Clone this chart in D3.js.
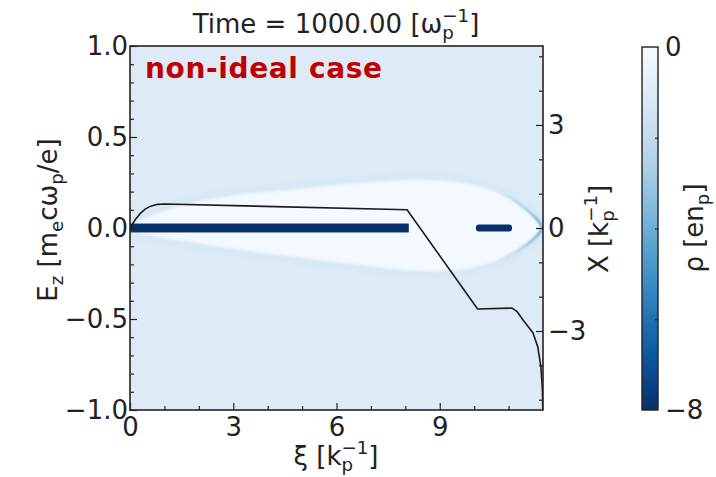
<!DOCTYPE html>
<html>
<head>
<meta charset="utf-8">
<script src="https://cdn.jsdelivr.net/npm/d3@7"></script>
<style>
  body { margin: 0; background: #fff; }
  text { font-family: "DejaVu Sans", sans-serif; fill: #222; }
</style>
</head>
<body>
<div id="chart"></div>
<script>
// axis ranges and ticks
const xiDomain = [0, 12];
const ezDomain = [-1, 1];
const xDomain = [-5.3, 5.3];
const rhoDomain = [0, -8];
const xiTicks = [0, 3, 6, 9];
const xiMinor = [1, 2, 4, 5, 7, 8, 10, 11];
const ezTicks = [-1, -0.5, 0, 0.5, 1];
const ezMinor = [-0.9, -0.8, -0.7, -0.6, -0.4, -0.3, -0.2, -0.1, 0.1, 0.2, 0.3, 0.4, 0.6, 0.7, 0.8, 0.9];
const xTicks = [-3, 0, 3];
const xMinor = [-5, -4, -2, -1, 1, 2, 4, 5];
const rhoTicks = [0, -8];
const rhoMinor = [-2, -4, -6];

// density levels
const rhoBackground = -1;
const rhoBubble = -0.15;
const rhoHalo = -2;
const rhoSheath = -4.5;
const rhoBeam = -8;

// bubble boundary
const bubbleXi     = [0, 0.5, 1, 2, 3, 4, 5, 6, 7, 8, 9, 10, 10.5, 11, 11.5, 11.8, 12];
const bubbleTop    = [0.08, 0.3, 0.5, 0.78, 0.95, 1.05, 1.15, 1.25, 1.33, 1.4, 1.38, 1.25, 1.1, 0.9, 0.55, 0.28, 0];
const bubbleBottom = [-0.08, -0.2, -0.3, -0.45, -0.6, -0.75, -0.87, -1.0, -1.12, -1.22, -1.25, -1.15, -1.0, -0.8, -0.5, -0.25, 0];

// beams
const beamStart = [0, 10.05];
const beamEnd = [8.1, 11.1];
const beamHalf = [0.13, 0.1];

// on-axis Ez
const ezXi     = [0, 0.15, 0.3, 0.45, 0.6, 0.8, 1.0, 8.05, 10.1, 11.1, 11.25, 11.42, 11.6, 11.71, 11.85, 11.94, 11.98, 11.995];
const ezValues = [0, 0.045, 0.08, 0.105, 0.12, 0.13, 0.132, 0.1, -0.445, -0.44, -0.46, -0.505, -0.55, -0.577, -0.654, -0.764, -0.88, -1.0];

const W = 716, H = 477;
const plot = { left: 130, right: 543, top: 46, bottom: 410 };
const cbar = { left: 642, right: 658, top: 47, bottom: 410 };
const FS = 26;

const svg = d3.select("#chart").append("svg").attr("width", W).attr("height", H);
const defs = svg.append("defs");

const xi = d3.scaleLinear().domain(xiDomain).range([plot.left, plot.right]);
const ez = d3.scaleLinear().domain(ezDomain).range([plot.bottom, plot.top]);
const xs = d3.scaleLinear().domain(xDomain).range([plot.bottom, plot.top]);
const color = d3.scaleSequential(d3.interpolateBlues).domain(rhoDomain);
const rhoY = d3.scaleLinear().domain(rhoDomain).range([cbar.top, cbar.bottom]);

defs.append("clipPath").attr("id", "clip").append("rect")
	.attr("x", plot.left).attr("y", plot.top)
	.attr("width", plot.right - plot.left).attr("height", plot.bottom - plot.top);

function blur(id, sd) {
	defs.append("filter").attr("id", id)
		.attr("x", "-20%").attr("y", "-50%").attr("width", "140%").attr("height", "200%")
		.append("feGaussianBlur").attr("stdDeviation", sd);
}
blur("blurBig", 5);
blur("blurMid", 1.6);
blur("blurSmall", 1);

// sheath fades in toward the back of the bubble
const sg = defs.append("linearGradient").attr("id", "sheathGrad")
	.attr("gradientUnits", "userSpaceOnUse")
	.attr("x1", xi(10.6)).attr("x2", xi(12)).attr("y1", 0).attr("y2", 0);
sg.append("stop").attr("offset", 0).attr("stop-color", color(rhoSheath)).attr("stop-opacity", 0);
sg.append("stop").attr("offset", 0.6).attr("stop-color", color(rhoSheath)).attr("stop-opacity", 0.45);
sg.append("stop").attr("offset", 1).attr("stop-color", color(rhoSheath)).attr("stop-opacity", 0.95);

const field = svg.append("g").attr("clip-path", "url(#clip)");

field.append("rect")
	.attr("x", plot.left).attr("y", plot.top)
	.attr("width", plot.right - plot.left).attr("height", plot.bottom - plot.top)
	.attr("fill", color(rhoBackground));

const bubble = bubbleXi.map((d, i) => ({ xi: d, top: bubbleTop[i], bot: bubbleBottom[i] }));

const outline = bubble.map(d => [xi(d.xi), xs(d.top)])
	.concat(bubble.slice().reverse().map(d => [xi(d.xi), xs(d.bot)]));
const closed = d3.line().curve(d3.curveCatmullRomClosed);

// faint halo around the cavity
field.append("path")
	.attr("d", closed(outline))
	.attr("fill", "none")
	.attr("stroke", color(rhoHalo))
	.attr("stroke-width", 8)
	.attr("opacity", 0.4)
	.attr("filter", "url(#blurBig)");

// the ion cavity
field.append("path")
	.attr("d", closed(outline))
	.attr("fill", color(rhoBubble))
	.attr("filter", "url(#blurMid)");

// electron sheath near the back of the bubble
const sheathLine = d3.line().curve(d3.curveCatmullRom).x(d => xi(d.xi));
const back = bubble.filter(d => d.xi >= 10.5);
["top", "bot"].forEach(k => {
	field.append("path")
		.attr("d", sheathLine.y(d => xs(d[k]))(back))
		.attr("fill", "none").attr("stroke", "url(#sheathGrad)")
		.attr("stroke-width", 2.4)
		.attr("filter", "url(#blurSmall)");
});

// beams
const beams = beamStart.map((d, i) => ({ s: d, e: beamEnd[i], h: beamHalf[i] }));
field.selectAll(".beam").data(beams).enter().append("rect")
	.attr("class", "beam")
	.attr("x", d => xi(d.s))
	.attr("y", d => xs(d.h))
	.attr("width", d => xi(d.e) - xi(d.s))
	.attr("height", d => xs(-d.h) - xs(d.h))
	.attr("rx", (d, i) => i == 1 ? 3 : 0)
	.attr("fill", color(rhoBeam));

// Ez line
const ezData = ezXi.map((d, i) => [d, ezValues[i]]);
field.append("path")
	.attr("d", d3.line().x(d => xi(d[0])).y(d => ez(d[1]))(ezData))
	.attr("fill", "none")
	.attr("stroke", "#1a1a1a")
	.attr("stroke-width", 1.6)
	.attr("stroke-linejoin", "round");

// axes
function styleAxis(g) {
	g.select(".domain").remove();
	g.attr("font-family", null).attr("font-size", null);
	g.selectAll("text").attr("font-size", FS).attr("fill", "#222");
	g.selectAll("line").attr("stroke", "#222").attr("stroke-width", 1.2);
}
const fmtEz = d3.format(".1f");

svg.append("g").attr("transform", `translate(${plot.left},0)`)
	.call(d3.axisLeft(ez).tickValues(ezTicks).tickSize(-7).tickPadding(2).tickFormat(fmtEz)).call(styleAxis);
svg.append("g").attr("transform", `translate(${plot.left},0)`)
	.call(d3.axisLeft(ez).tickValues(ezMinor).tickSize(-4).tickFormat("")).call(styleAxis);

svg.append("g").attr("transform", `translate(0,${plot.bottom})`)
	.call(d3.axisBottom(xi).tickValues(xiTicks).tickSize(-7).tickPadding(8)).call(styleAxis);
svg.append("g").attr("transform", `translate(0,${plot.bottom})`)
	.call(d3.axisBottom(xi).tickValues(xiMinor).tickSize(-4).tickFormat("")).call(styleAxis);

svg.append("g").attr("transform", `translate(${plot.right},0)`)
	.call(d3.axisRight(xs).tickValues(xTicks).tickSize(-7).tickPadding(5)).call(styleAxis);
svg.append("g").attr("transform", `translate(${plot.right},0)`)
	.call(d3.axisRight(xs).tickValues(xMinor).tickSize(-4).tickFormat("")).call(styleAxis);

svg.append("rect")
	.attr("x", plot.left).attr("y", plot.top)
	.attr("width", plot.right - plot.left).attr("height", plot.bottom - plot.top)
	.attr("fill", "none").attr("stroke", "#222").attr("stroke-width", 1.6);

// colorbar
const grad = defs.append("linearGradient").attr("id", "cgrad")
	.attr("x1", 0).attr("y1", 0).attr("x2", 0).attr("y2", 1);
d3.range(0, 1.0001, 0.05).forEach(t => {
	grad.append("stop").attr("offset", t).attr("stop-color", color(rhoDomain[0] + t * (rhoDomain[1] - rhoDomain[0])));
});
svg.append("rect")
	.attr("x", cbar.left).attr("y", cbar.top)
	.attr("width", cbar.right - cbar.left).attr("height", cbar.bottom - cbar.top)
	.attr("fill", "url(#cgrad)").attr("stroke", "#222").attr("stroke-width", 1.4);
svg.append("g").attr("transform", `translate(${cbar.right},0)`)
	.call(d3.axisRight(rhoY).tickValues(rhoTicks).tickSize(0).tickPadding(7)).call(styleAxis);
svg.append("g").attr("transform", `translate(${cbar.right},0)`)
	.call(d3.axisRight(rhoY).tickValues(rhoMinor).tickSize(-3).tickFormat("")).call(styleAxis);

// text with sub/superscripts
function rich(t, parts) {
	let shift = 0;
	parts.forEach(p => {
		const target = p.sub ? 0.22 * FS : p.sup ? -0.42 * FS : 0;
		const ts = t.append("tspan").text(p.t)
			.attr("font-size", (p.sub || p.sup) ? FS * 0.7 : FS)
			.attr("dy", target - shift);
		if (p.dx) ts.attr("dx", p.dx);
		shift = target;
	});
}
const pw = -0.7 * FS * 0.635;

rich(svg.append("text").attr("x", 336).attr("y", 33).attr("text-anchor", "middle").attr("font-size", FS),
	[{ t: "Time = 1000.00 [ω" }, { t: "p", sub: true }, { t: "−1", sup: true, dx: pw }, { t: "]" }]);

rich(svg.append("text").attr("x", 336).attr("y", 465).attr("text-anchor", "middle").attr("font-size", FS),
	[{ t: "ξ [k" }, { t: "p", sub: true }, { t: "−1", sup: true, dx: pw }, { t: "]" }]);

rich(svg.append("text").attr("transform", "translate(57,220) rotate(-90)").attr("text-anchor", "middle").attr("font-size", FS),
	[{ t: "E" }, { t: "z", sub: true }, { t: " [m" }, { t: "e", sub: true }, { t: "cω" }, { t: "p", sub: true }, { t: "/e]" }]);

rich(svg.append("text").attr("transform", "translate(608,229) rotate(-90)").attr("text-anchor", "middle").attr("font-size", FS),
	[{ t: "X [k" }, { t: "p", sub: true }, { t: "−1", sup: true, dx: pw }, { t: "]" }]);

rich(svg.append("text").attr("transform", "translate(703,228) rotate(-90)").attr("text-anchor", "middle").attr("font-size", FS),
	[{ t: "ρ [en" }, { t: "p", sub: true }, { t: "]" }]);

svg.append("text")
	.attr("x", 145).attr("y", 78)
	.attr("font-size", 28).attr("font-weight", "bold")
	.style("fill", "#c00000")
	.attr("textLength", 237)
	.text("non-ideal case");
</script>
</body>
</html>
